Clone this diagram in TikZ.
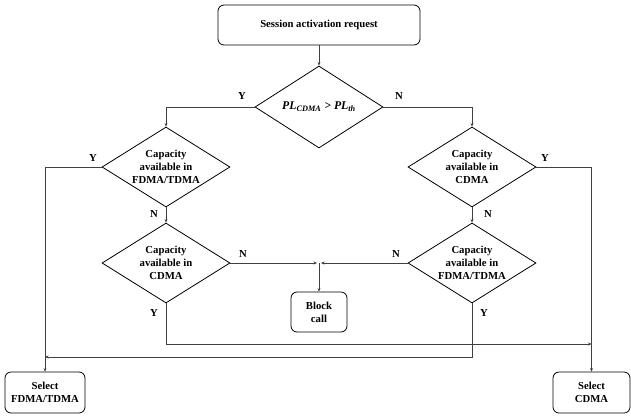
\documentclass[tikz,border=0pt]{standalone}
\usepackage{fontspec}
\setmainfont{Liberation Serif}
\usetikzlibrary{shapes.geometric,arrows.meta,calc}
\begin{document}
\begin{tikzpicture}[x=1pt,y=-1pt,
 every node/.style={font=\fontsize{10.7}{12.9}\selectfont\bfseries},
 dec/.style={diamond,draw,line width=0.8pt,minimum width=128pt,minimum height=80pt,inner sep=-8pt,aspect=1.6,align=center},
 box/.style={draw,rounded corners=6pt,line width=0.8pt,align=center},
 conn/.style={draw=black!75,line width=0.6pt},
 arr/.style={conn,-{Stealth[length=3.5pt,width=3pt]}},
 lab/.style={inner sep=0pt}]
\useasboundingbox (0,0) rectangle (631,416);
\node[box,minimum width=202pt,minimum height=40pt] (start) at (319,25) {Session activation request};
\node[dec,minimum height=82pt,font=\fontsize{11.8}{14}\selectfont\bfseries] (d0) at (319,107) {\textit{PL\textsubscript{CDMA} > PL\textsubscript{th}}};
\node[dec] (L1) at (166,167) {Capacity\\available in\\FDMA/TDMA};
\node[dec] (L2) at (166,263) {Capacity\\available in\\CDMA};
\node[dec] (R1) at (472,167) {Capacity\\available in\\CDMA};
\node[dec] (R2) at (472,263) {Capacity\\available in\\FDMA/TDMA};
\node[box,minimum width=56pt,minimum height=40pt] (blk) at (319,312) {Block\\call};
\node[box,minimum width=80pt,minimum height=41pt] (selF) at (45,392.5) {Select\\FDMA/TDMA};
\node[box,minimum width=77pt,minimum height=41pt] (selC) at (591.5,392.5) {Select\\CDMA};
\coordinate (jm) at (319,263);
\coordinate (jR) at (591.5,344);
\coordinate (jL) at (45,357);
\draw[arr] (start) -- (d0);
\draw[arr] (d0.west) -| (L1.north);
\draw[arr] (d0.east) -| (R1.north);
\draw[arr] (L1) -- (L2);
\draw[arr] (R1) -- (R2);
\draw[arr] (L1.west) -| (selF.north);
\draw[arr] (R1.east) -| (selC.north);
\draw[arr,shorten >=2pt] (L2.east) -- (jm);
\draw[arr,shorten >=2pt] (R2.west) -- (jm);
\draw[arr] (jm) -- (blk.north);
\draw[arr] (L2.south) |- (jR);
\draw[arr] (R2.south) |- (jL);
\node[lab] (y0) at (242,96) {Y};
\node[lab] (n0) at (399,96) {N};
\node[lab] (y1) at (93,158) {Y};
\node[lab] (n1) at (154,214) {N};
\node[lab] (n2) at (243,254) {N};
\node[lab] (y2) at (154,313) {Y};
\node[lab] (y3) at (545,158) {Y};
\node[lab] (n3) at (488,214) {N};
\node[lab] (n4) at (396,254) {N};
\node[lab] (y4) at (484,313) {Y};
\end{tikzpicture}
\end{document}
